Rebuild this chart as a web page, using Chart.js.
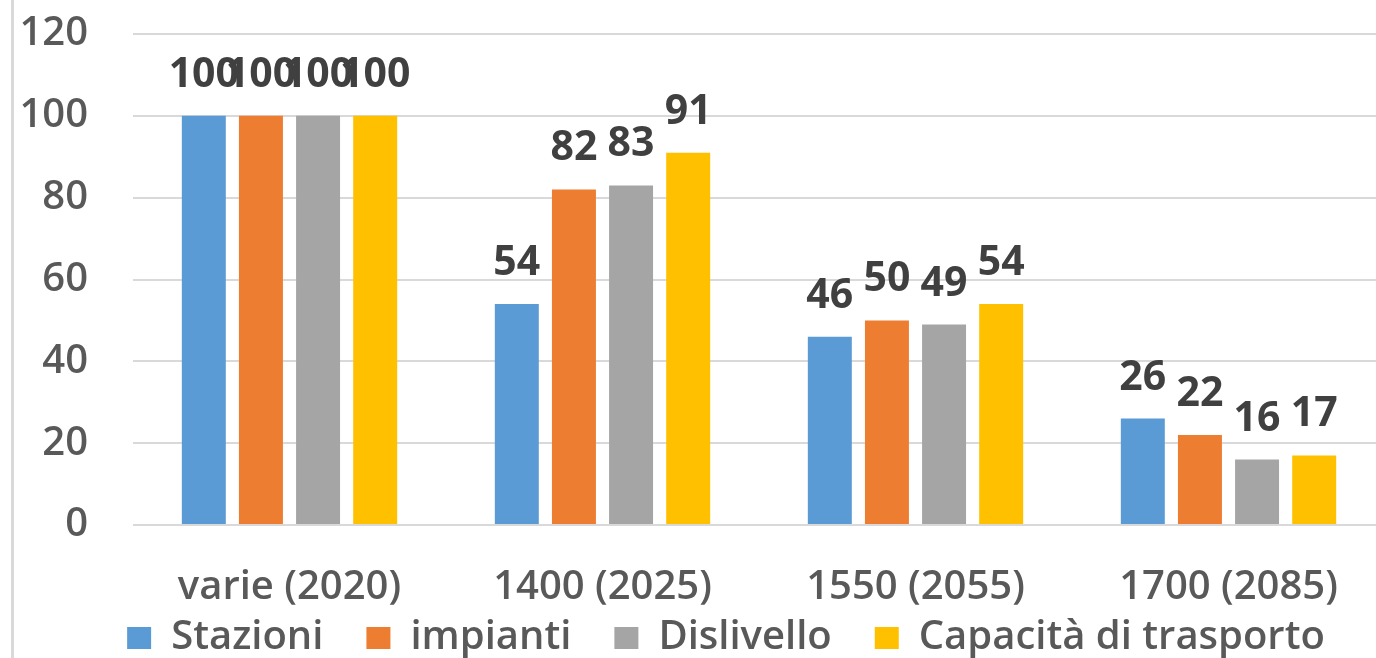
<!DOCTYPE html>
<html>
<head>
<meta charset="utf-8">
<script src="https://cdn.jsdelivr.net/npm/chart.js@4.4.1/dist/chart.umd.min.js"></script>
<style>
  html, body { margin: 0; padding: 0; background: #ffffff; overflow: hidden; }
  #wrap { position: relative; width: 1376px; height: 658px; overflow: hidden; }
  #edge { position: absolute; left: 11px; top: 0; width: 3px; height: 658px; background: #d9d9d9; }
  canvas { position: absolute; left: 0; top: 0; }
</style>
</head>
<body>
<div id="wrap">
  <canvas id="chart" width="1390" height="658"></canvas>
  <div id="edge"></div>
</div>
<script>
// Quote altimetriche (anno) e indici relativi al 2020 = 100
const categories = ['varie (2020)', '1400 (2025)', '1550 (2055)', '1700 (2085)'];
const stazioni   = [100, 54, 46, 26];
const impianti   = [100, 82, 50, 22];
const dislivello = [100, 83, 49, 16];
const capacita   = [100, 91, 54, 17];
const yTicks     = [0, 20, 40, 60, 80, 100, 120];

const FONT = '"Open Sans", "Liberation Sans", sans-serif';

// Value printed above every bar
const valueLabels = {
  id: 'valueLabels',
  afterDatasetsDraw(chart) {
    const ctx = chart.ctx;
    ctx.save();
    ctx.font = 'bold 41px ' + FONT;
    ctx.fillStyle = '#404040';
    ctx.textAlign = 'center';
    ctx.textBaseline = 'alphabetic';
    chart.data.datasets.forEach((ds, i) => {
      const meta = chart.getDatasetMeta(i);
      meta.data.forEach((bar, j) => {
        ctx.fillText(String(ds.data[j]), bar.x, bar.y - 29);
      });
    });
    ctx.restore();
  }
};

// Legend sits close under the category labels, slightly right of centre
const legendPlacement = {
  id: 'legendPlacement',
  beforeDraw(chart) {
    const lg = chart.legend;
    const h = lg.height;
    lg.top = 575;
    lg.bottom = 575 + h;
    lg.left = 67;
    lg.right = 1385;
  }
};

new Chart(document.getElementById('chart'), {
  type: 'bar',
  data: {
    labels: categories,
    datasets: [
      { label: 'Stazioni', data: stazioni, backgroundColor: '#5B9BD5' },
      { label: 'impianti', data: impianti, backgroundColor: '#ED7D31' },
      { label: 'Dislivello', data: dislivello, backgroundColor: '#A5A5A5' },
      { label: 'Capacità di trasporto', data: capacita, backgroundColor: '#FFC000' }
    ]
  },
  options: {
    responsive: false,
    animation: false,
    datasets: { bar: { categoryPercentage: 0.73, barPercentage: 0.77, borderWidth: 0 } },
    layout: { padding: { top: 0, left: 0, right: 5, bottom: -47 } },
    scales: {
      x: {
        afterFit(axis) { axis.height = 87; },
        grid: { display: false, drawTicks: false },
        border: { display: false },
        ticks: { color: '#595959', font: { family: FONT, size: 40, weight: '600' }, padding: 39, maxRotation: 0 }
      },
      y: {
        min: 0, max: 120,
        afterBuildTicks(axis) { axis.ticks = yTicks.map(v => ({ value: v })); },
        afterFit(axis) { axis.width = 133; axis.paddingTop = 34; axis.paddingBottom = 0; },
        grid: { color: '#d9d9d9', lineWidth: 2, drawTicks: false },
        border: { display: false },
        ticks: { color: '#595959', font: { family: FONT, size: 40, weight: '600' }, padding: 45 }
      }
    },
    plugins: {
      legend: {
        position: 'bottom',
        labels: {
          color: '#595959',
          font: { family: FONT, size: 40, weight: '600' },
          boxWidth: 24, boxHeight: 22, padding: 43
        }
      },
      tooltip: { enabled: false }
    }
  },
  plugins: [valueLabels, legendPlacement]
});
</script>
</body>
</html>
